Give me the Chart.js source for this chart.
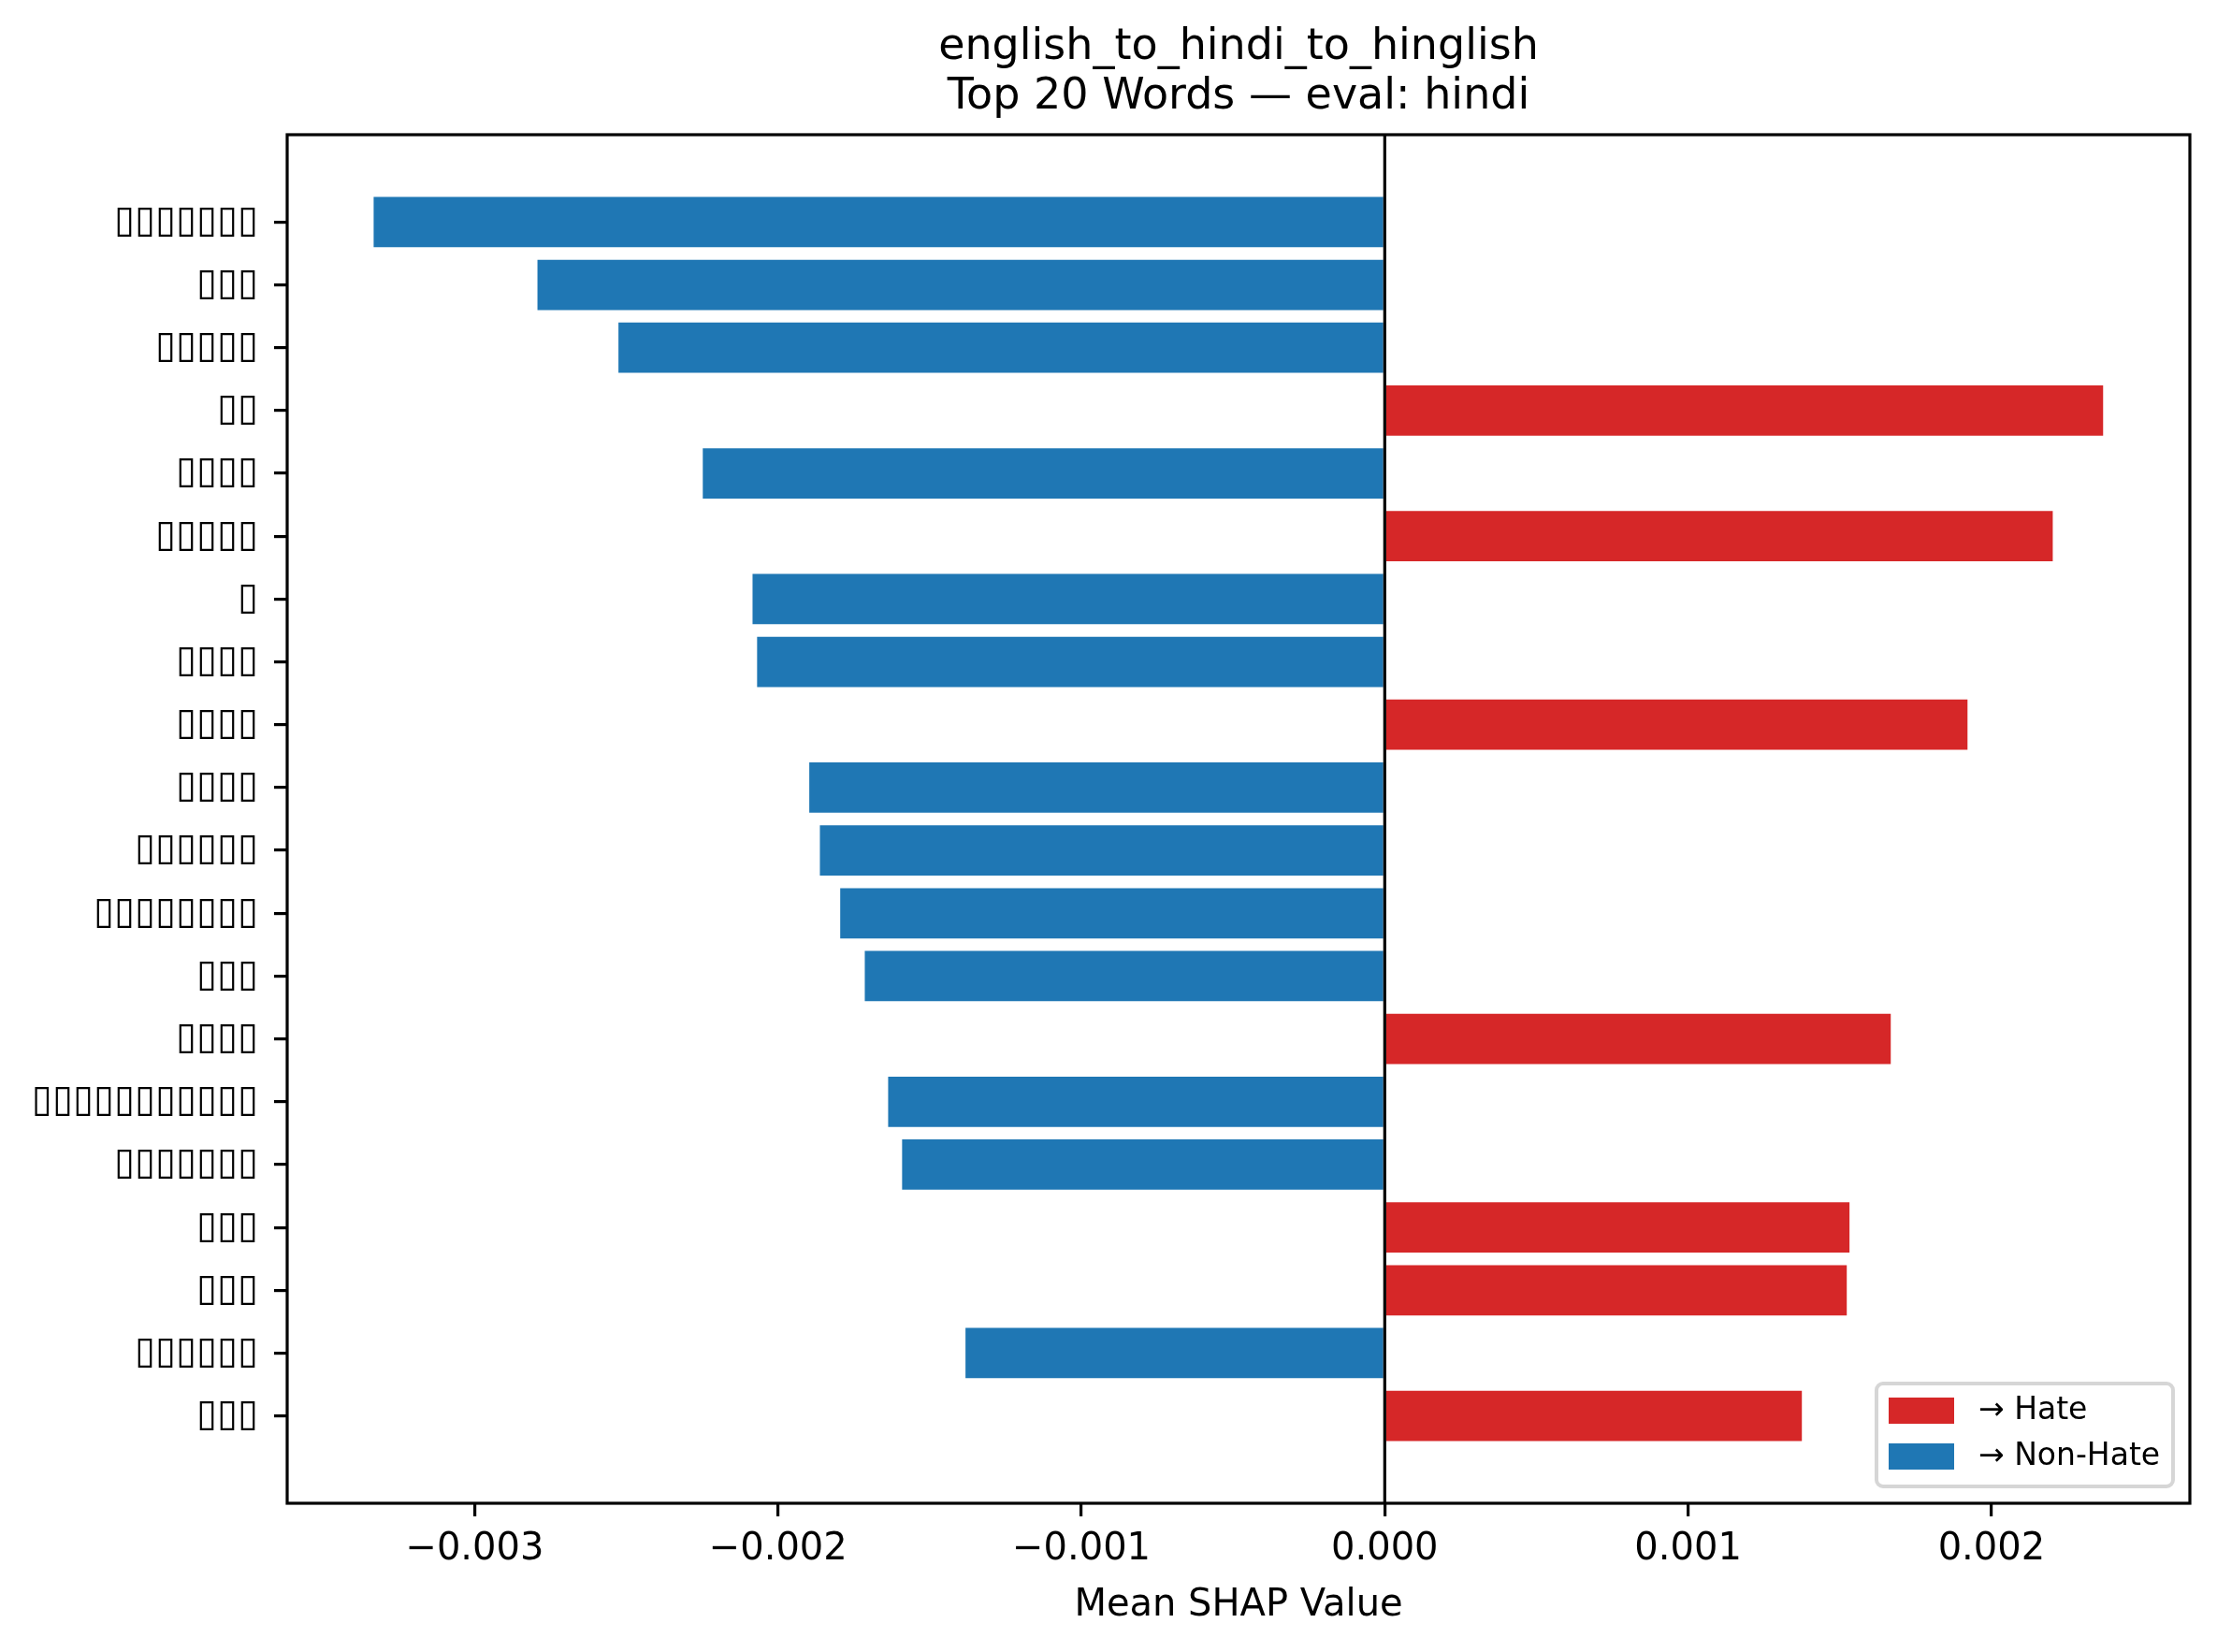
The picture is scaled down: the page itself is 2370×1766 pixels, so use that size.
<!DOCTYPE html>
<html>
<head>
<meta charset="utf-8">
<title>english_to_hindi_to_hinglish</title>
<script src="https://cdn.jsdelivr.net/npm/chart.js"></script>
<style>
  html, body { margin: 0; padding: 0; background: #fff; }
  canvas { display: block; }
</style>
</head>
<body>
<canvas id="shapChart" width="2370" height="1766"></canvas>
<script>
// words exactly as the source figure shows them (its font had no Devanagari glyphs)
const words = [
  '▯▯▯▯▯▯▯', '▯▯▯', '▯▯▯▯▯', '▯▯', '▯▯▯▯',
  '▯▯▯▯▯', '▯', '▯▯▯▯', '▯▯▯▯', '▯▯▯▯',
  '▯▯▯▯▯▯', '▯▯▯▯▯▯▯▯', '▯▯▯', '▯▯▯▯', '▯▯▯▯▯▯▯▯▯▯▯',
  '▯▯▯▯▯▯▯', '▯▯▯', '▯▯▯', '▯▯▯▯▯▯', '▯▯▯'
];
const shapValues = [
  -0.003333, -0.002793, -0.002526, 0.002368, -0.002248,
  0.002202, -0.002084, -0.002069, 0.001921, -0.001897,
  -0.001862, -0.001795, -0.001714, 0.001668, -0.001637,
  -0.001591, 0.001532, 0.001523, -0.001382, 0.001375
];
const xTicks = [-0.003, -0.002, -0.001, 0, 0.001, 0.002];
const xRange = [-0.003618, 0.002654];
const titleLines = ['english_to_hindi_to_hinglish', 'Top 20 Words — eval: hindi'];
const legendLabels = ['→ Hate', '→ Non-Hate'];

const HATE = '#d62728';
const NON_HATE = '#1f77b4';
const FONT = '"DejaVu Sans", sans-serif';
const LW = 3.2;

// frame, zero line, title over the axes and an inside legend, matplotlib style
const axesDecor = {
  id: 'axesDecor',
  afterDatasetsDraw(chart) {
    const { ctx, chartArea: a, scales: { x } } = chart;
    ctx.save();
    ctx.strokeStyle = '#000';
    ctx.lineWidth = LW;
    const x0 = x.getPixelForValue(0);
    ctx.beginPath();
    ctx.moveTo(x0, a.top);
    ctx.lineTo(x0, a.bottom);
    ctx.stroke();
    ctx.strokeRect(a.left, a.top, a.right - a.left, a.bottom - a.top);
    ctx.restore();
  },
  afterDraw(chart) {
    const { ctx, chartArea: a } = chart;

    // title centred on the plot area
    ctx.save();
    ctx.fillStyle = '#000';
    ctx.font = '46px ' + FONT;
    ctx.textAlign = 'center';
    ctx.textBaseline = 'middle';
    titleLines.forEach((line, i) => {
      ctx.fillText(line, (a.left + a.right) / 2, a.top - 93 + i * 53);
    });
    ctx.restore();

    // legend, lower right
    const w = 317, h = 110;
    const lx = a.right - 18 - w, ly = a.bottom - 18 - h;
    ctx.save();
    ctx.beginPath();
    ctx.roundRect(lx, ly, w, h, 7);
    ctx.fillStyle = 'rgba(255,255,255,0.8)';
    ctx.fill();
    ctx.strokeStyle = '#d6d6d6';
    ctx.lineWidth = 4;
    ctx.stroke();
    ctx.font = '33px ' + FONT;
    ctx.textBaseline = 'middle';
    ctx.textAlign = 'left';
    legendLabels.forEach((label, i) => {
      const cy = ly + 29 + i * 49;
      ctx.fillStyle = i === 0 ? HATE : NON_HATE;
      ctx.fillRect(lx + 13, cy - 14, 70, 28);
      ctx.fillStyle = '#000';
      ctx.fillText(label, lx + 109, cy);
    });
    ctx.restore();
  }
};

const ctx = document.getElementById('shapChart').getContext('2d');

new Chart(ctx, {
  type: 'bar',
  data: {
    datasets: [{
      data: shapValues.map((v, i) => ({ x: v, y: i })),
      backgroundColor: shapValues.map(v => v > 0 ? HATE : NON_HATE),
      borderWidth: 0,
      categoryPercentage: 1.0,
      barPercentage: 0.8
    }]
  },
  options: {
    indexAxis: 'y',
    responsive: false,
    devicePixelRatio: 1,
    animation: false,
    events: [],
    layout: { padding: { top: 144, left: 0, right: 29, bottom: 0 } },
    plugins: {
      legend: { display: false },
      tooltip: { enabled: false },
      title: { display: false }
    },
    scales: {
      x: {
        type: 'linear',
        min: xRange[0],
        max: xRange[1],
        afterBuildTicks: s => { s.ticks = xTicks.map(v => ({ value: v })); },
        afterFit: s => { s.height = 159; },
        grid: { drawOnChartArea: false, tickLength: 14, color: '#000', lineWidth: LW },
        border: { display: false },
        ticks: {
          color: '#000',
          font: { family: FONT, size: 40 },
          padding: 12,
          maxRotation: 0,
          callback: v => (v < 0 ? '−' : '') + Math.abs(v).toFixed(3)
        },
        title: {
          display: true,
          text: 'Mean SHAP Value',
          color: '#000',
          font: { family: FONT, size: 40, lineHeight: 1.2 },
          padding: { top: 0, bottom: 25 }
        }
      },
      y: {
        type: 'linear',
        reverse: true,
        offset: false,
        min: -1.39,
        max: 20.39,
        afterBuildTicks: s => { s.ticks = words.map((_, i) => ({ value: i })); },
        afterFit: s => { s.width = 307; },
        grid: { offset: false, drawOnChartArea: false, tickLength: 14, color: '#000', lineWidth: LW },
        border: { display: false },
        ticks: {
          autoSkip: false,
          color: '#000',
          font: { family: FONT, size: 40 },
          padding: 17,
          callback: v => words[v]
        }
      }
    }
  },
  plugins: [axesDecor]
});
</script>
</body>
</html>
